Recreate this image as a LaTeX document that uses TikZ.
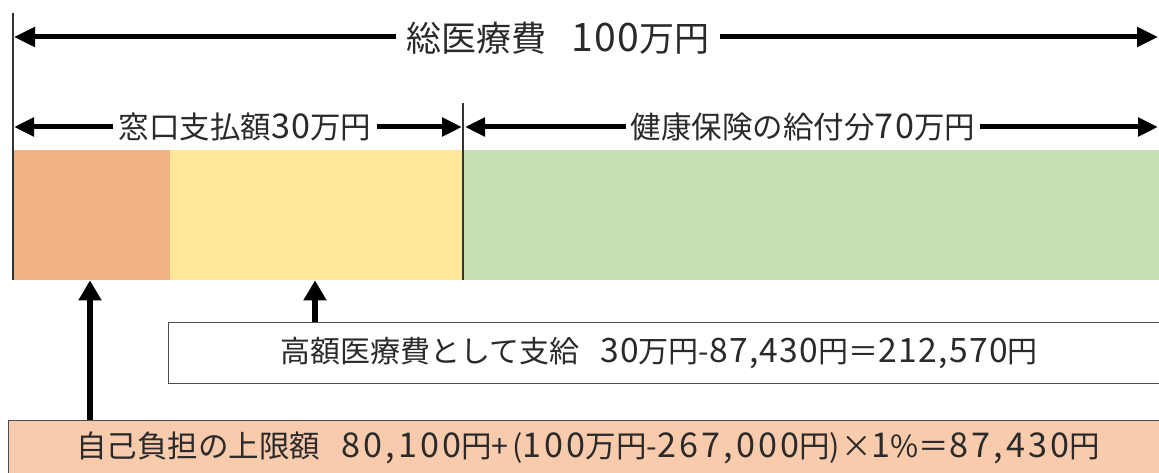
\documentclass[tikz,border=0pt]{standalone}
\usepackage{fontspec}
\setmainfont{Noto Sans CJK JP}
\newfontfamily\dg[Scale=1.12,LetterSpace=4]{Noto Sans CJK JP}
\newfontfamily\dgw[Scale=1.12,LetterSpace=9]{Noto Sans CJK JP}
\usetikzlibrary{arrows.meta}
\definecolor{txt}{HTML}{2A2A2A}
\definecolor{barorange}{HTML}{F4B183}
\definecolor{baryellow}{HTML}{FFE699}
\definecolor{bargreen}{HTML}{C5E0B4}
\definecolor{boxorange}{HTML}{F8CBAD}
\begin{document}
\begin{tikzpicture}[x=1pt,y=-1pt,
  bar/.style={rectangle,inner sep=0pt,anchor=north west,minimum height=130pt},
  bigarrow/.style={line width=5pt,-{Triangle[length=21pt,width=19pt]}},
  midarrow/.style={line width=5pt,-{Triangle[length=20pt,width=18pt]}},
  uparrow/.style={line width=6pt,-{Triangle[length=20pt,width=22pt]}},
  rule/.style={line width=1.4pt,black!80},
  toplabel/.style={text=txt,font=\fontsize{35}{38}\selectfont,inner xsep=10pt,inner ysep=0pt},
  midlabel/.style={text=txt,font=\fontsize{30.5}{33}\selectfont,inner xsep=5pt,inner ysep=0pt},
  boxlabel/.style={text=txt,font=\fontsize{30}{33}\selectfont,inner sep=0pt},
  infobox/.style={rectangle,draw=black!70,line width=1.3pt,anchor=north west,inner sep=0pt}
]
\useasboundingbox (0,0) rectangle (1159,473);
% bars
\node[bar,fill=barorange,minimum width=156pt] (b1) at (14,150) {};
\node[bar,fill=baryellow,minimum width=293pt] (b2) at (170,150) {};
\node[bar,fill=bargreen,minimum width=700pt] (b3) at (463,150) {};
% vertical rules
\coordinate (r1t) at (13,13);
\coordinate (r1b) at (13,280);
\coordinate (r2t) at (463,103);
\coordinate (r2b) at (463,280);
\draw[rule] (r1t) -- (r1b);
\draw[rule] (r2t) -- (r2b);
% total arrow
\node[toplabel] (total) at (558,38) {総医療費\hspace{0.7em}{\dg 100}万円};
\coordinate (tl) at (14,37);
\coordinate (tr) at (1158,37);
\draw[bigarrow] (total.west |- tl) -- (tl);
\draw[bigarrow] (total.east |- tr) -- (tr);
% second row
\node[midlabel] (win) at (245,127) {窓口支払額{\dg 30}万円};
\node[midlabel] (ins) at (803,127) {健康保険の給付分{\dg 70}万円};
\coordinate (wl) at (14,127);
\coordinate (wr) at (462,127);
\coordinate (il) at (465,127);
\coordinate (ir) at (1158,127);
\draw[midarrow] (win.west |- wl) -- (wl);
\draw[midarrow] (win.east |- wr) -- (wr);
\draw[midarrow] (ins.west |- il) -- (il);
\draw[midarrow] (ins.east |- ir) -- (ir);
% boxes
\node[infobox,fill=white,minimum width=1010pt,minimum height=61pt] (kbox) at (168,322) {};
\node[boxlabel] (ktext) at (659,353) {高額医療費として支給\hspace{0.7em}{\dg 30}万円-{\dg 87,430}円＝{\dg 212,570}円};
\node[infobox,fill=boxorange,minimum width=1170pt,minimum height=80pt] (sbox) at (8,420) {};
\node[boxlabel,font=\fontsize{30.5}{33}\selectfont] (stext) at (588,448) {自己負担の上限額\hspace{0.7em}{\dgw 80,100}円+\hspace{0.12em}({\dgw 100}万円-{\dgw 267,000}円)\hspace{0.05em}×{\dgw 1}\%＝{\dgw 87,430}円};
% up arrows
\coordinate (x1) at (90,0);
\coordinate (x2) at (315,0);
\draw[uparrow] (x1 |- sbox.north) -- (x1 |- b1.south);
\draw[uparrow] (x2 |- kbox.north) -- (x2 |- b2.south);
\end{tikzpicture}
\end{document}
